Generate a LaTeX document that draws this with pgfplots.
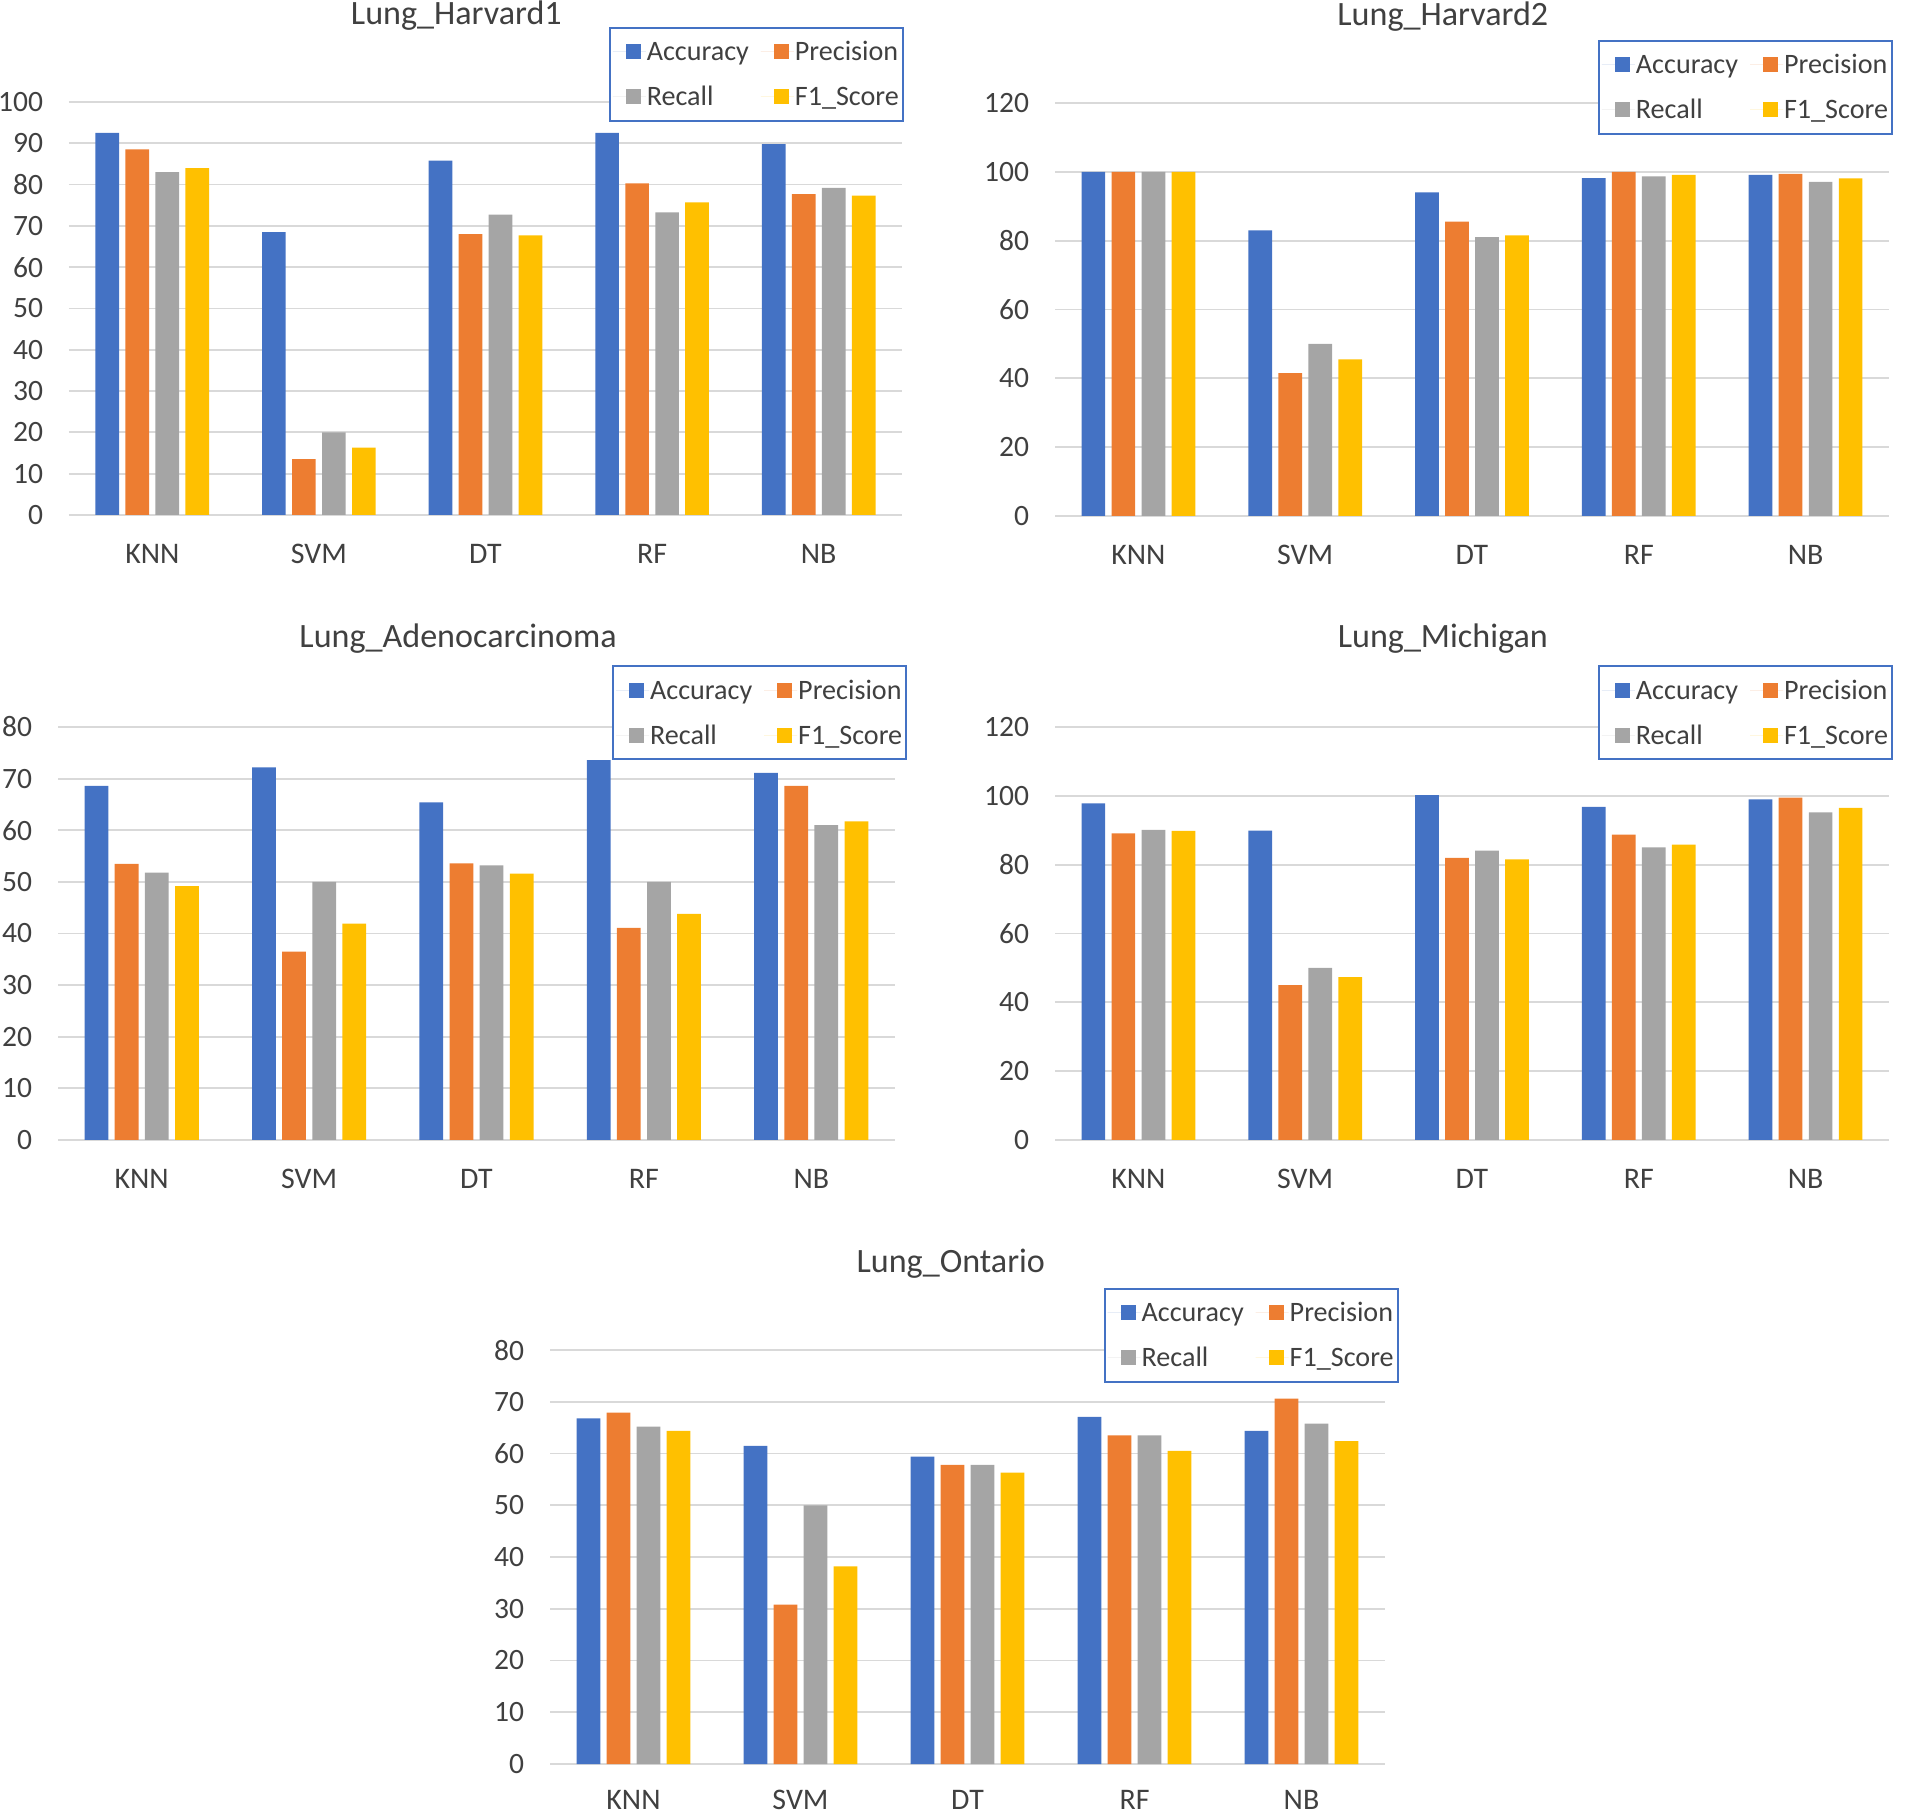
\documentclass[border=0pt]{standalone}
\usepackage{fontspec}
\setmainfont{Carlito}
\usepackage{pgfplots}
\usepackage{pgfplotstable}
\pgfplotsset{compat=1.18}
\definecolor{cblue}{HTML}{4472C4}
\definecolor{corange}{HTML}{ED7D31}
\definecolor{cgray}{HTML}{A5A5A5}
\definecolor{cyellow}{HTML}{FFC000}
\definecolor{gridc}{HTML}{D9D9D9}
\definecolor{txt}{HTML}{404040}

\pgfplotstableread{
x acc prec rec f1
0 92.5 88.5 83.0 84.0
1 68.5 13.5 20.0 16.3
2 85.8 68.0 72.7 67.7
3 92.5 80.3 73.3 75.7
4 89.8 77.7 79.2 77.3
}\harvA
\pgfplotstableread{
x acc prec rec f1
0 100.0 100.0 100.0 100.0
1 83.0 41.5 50.0 45.5
2 94.0 85.5 81.0 81.5
3 98.2 100.0 98.7 99.1
4 99.1 99.4 97.1 98.1
}\harvB
\pgfplotstableread{
x acc prec rec f1
0 68.6 53.5 51.8 49.2
1 72.2 36.5 50.0 41.9
2 65.4 53.6 53.2 51.6
3 73.6 41.1 50.0 43.8
4 71.1 68.6 61.0 61.7
}\adeno
\pgfplotstableread{
x acc prec rec f1
0 97.8 89.1 90.1 89.8
1 89.9 45.0 50.0 47.3
2 100.2 82.0 84.1 81.5
3 96.8 88.7 85.0 85.8
4 99.0 99.5 95.2 96.5
}\mich
\pgfplotstableread{
x acc prec rec f1
0 66.8 67.9 65.2 64.4
1 61.5 30.8 50.0 38.2
2 59.4 57.8 57.8 56.3
3 67.1 63.5 63.5 60.5
4 64.4 70.6 65.8 62.4
}\ont

\pgfplotsset{
  every axis title shift=0pt,
  mybar/.style={
    scale only axis,
    ybar, bar width=0.142,
    xmin=-0.5, xmax=4.5,
    xtick={0,1,2,3,4}, xticklabels={KNN,SVM,DT,RF,NB},
    ymin=0,
    ymajorgrids, grid style={draw=gridc, line width=0.18mm},
    axis line style={draw=none}, tick style={draw=none},
    /pgf/number format/assume math mode=true,
    yticklabel style={font=\fontsize{8.4}{10}\selectfont, text=txt, xshift=-1.35mm},
    xticklabel style={font=\fontsize{8.5}{10}\selectfont, text=txt, yshift=-0.2mm},
    title style={font=\fontsize{9.7}{11}\selectfont, text=txt, anchor=center},
    legend columns=2, legend cell align=left,
    legend style={draw=cblue, line width=0.2mm, fill=white,
      font=\fontsize{8}{9.6}\selectfont, text=txt,
      inner xsep=0.3mm, inner ysep=0.3mm,
      nodes={inner xsep=0.1mm, inner ysep=0.9mm, text height=2.1mm, text depth=0.3mm},
      /tikz/every even column/.append style={column sep=1.1mm},
      row sep=0.3mm},
    legend image code/.code={\path (-0.13cm,0cm) -- (0.2cm,0cm);
      \path[##1] (0cm,-0.075cm) rectangle (0.15cm,0.075cm);},
  },
  pa/.style={fill=cblue, draw=none, bar shift=-0.27},
  pb/.style={fill=corange, draw=none, bar shift=-0.09},
  pc/.style={fill=cgray, draw=none, bar shift=0.09},
  pd/.style={fill=cyellow, draw=none, bar shift=0.27},
}

\begin{document}
\begin{tikzpicture}
\path[use as bounding box] (0,0) rectangle (19.05,18.15);

% Lung_Harvard1
\begin{axis}[mybar, at={(0.69cm,13.00cm)}, anchor=south west,
  width=8.33cm, height=4.13cm, ymax=100, ytick={0,10,...,100},
  title={Lung\_Harvard1}, title style={at={(0.465,1.208)}},
  legend style={at={(0.648,1.182)}, anchor=north west}]
\addplot[pa] table[x=x,y=acc]{\harvA};
\addplot[pb] table[x=x,y=prec]{\harvA};
\addplot[pc] table[x=x,y=rec]{\harvA};
\addplot[pd] table[x=x,y=f1]{\harvA};
\legend{Accuracy,Precision,Recall,F1\_Score}
\end{axis}

% Lung_Harvard2
\begin{axis}[mybar, at={(10.55cm,12.99cm)}, anchor=south west,
  width=8.34cm, height=4.13cm, ymax=120, ytick={0,20,...,120},
  title={Lung\_Harvard2}, title style={at={(0.465,1.208)}},
  legend style={at={(0.651,1.153)}, anchor=north west}]
\addplot[pa] table[x=x,y=acc]{\harvB};
\addplot[pb] table[x=x,y=prec]{\harvB};
\addplot[pc] table[x=x,y=rec]{\harvB};
\addplot[pd] table[x=x,y=f1]{\harvB};
\legend{Accuracy,Precision,Recall,F1\_Score}
\end{axis}

% Lung_Adenocarcinoma
\begin{axis}[mybar, at={(0.58cm,6.75cm)}, anchor=south west,
  width=8.37cm, height=4.13cm, ymax=80, ytick={0,10,...,80},
  title={Lung\_Adenocarcinoma}, title style={at={(0.478,1.213)}},
  legend style={at={(0.662,1.150)}, anchor=north west}]
\addplot[pa] table[x=x,y=acc]{\adeno};
\addplot[pb] table[x=x,y=prec]{\adeno};
\addplot[pc] table[x=x,y=rec]{\adeno};
\addplot[pd] table[x=x,y=f1]{\adeno};
\legend{Accuracy,Precision,Recall,F1\_Score}
\end{axis}

% Lung_Michigan
\begin{axis}[mybar, at={(10.55cm,6.75cm)}, anchor=south west,
  width=8.34cm, height=4.13cm, ymax=120, ytick={0,20,...,120},
  title={Lung\_Michigan}, title style={at={(0.465,1.213)}},
  legend style={at={(0.651,1.150)}, anchor=north west}]
\addplot[pa] table[x=x,y=acc]{\mich};
\addplot[pb] table[x=x,y=prec]{\mich};
\addplot[pc] table[x=x,y=rec]{\mich};
\addplot[pd] table[x=x,y=f1]{\mich};
\legend{Accuracy,Precision,Recall,F1\_Score}
\end{axis}

% Lung_Ontario
\begin{axis}[mybar, at={(5.50cm,0.51cm)}, anchor=south west,
  width=8.35cm, height=4.14cm, ymax=80, ytick={0,10,...,80},
  xticklabel style={yshift=0.3mm},
  title={Lung\_Ontario}, title style={at={(0.480,1.208)}},
  legend style={at={(0.663,1.150)}, anchor=north west}]
\addplot[pa] table[x=x,y=acc]{\ont};
\addplot[pb] table[x=x,y=prec]{\ont};
\addplot[pc] table[x=x,y=rec]{\ont};
\addplot[pd] table[x=x,y=f1]{\ont};
\legend{Accuracy,Precision,Recall,F1\_Score}
\end{axis}
\end{tikzpicture}
\end{document}
